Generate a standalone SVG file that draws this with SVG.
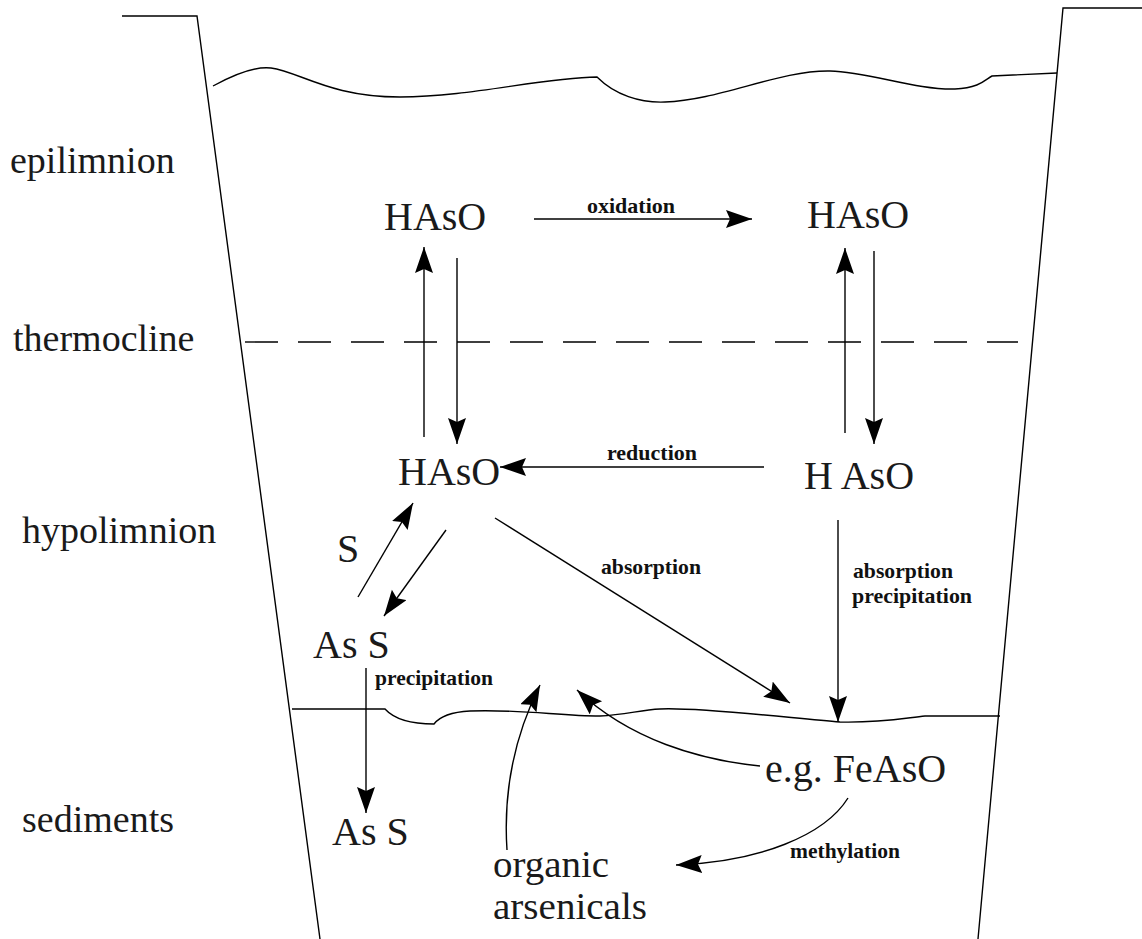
<svg xmlns="http://www.w3.org/2000/svg" width="1142" height="939" viewBox="0 0 1142 939">
<defs>
<marker id="ah" markerUnits="userSpaceOnUse" markerWidth="28" markerHeight="20" refX="26" refY="9" orient="auto">
<path d="M0,0 L26,9 L0,18 L4,9 z" fill="#000"/>
</marker>
<style>
.ln{fill:none;stroke:#000;stroke-width:1.4}
.ar{fill:none;stroke:#000;stroke-width:1.4;marker-end:url(#ah)}
.big{font-family:"Liberation Serif","Times New Roman",serif;font-size:40px;fill:#1a1a1a}
.org{font-family:"Liberation Serif","Times New Roman",serif;font-size:37px;fill:#1a1a1a}
.zone{font-family:"Liberation Serif","Times New Roman",serif;font-size:38px;fill:#1a1a1a}
.sm{font-family:"Liberation Serif","Times New Roman",serif;font-size:22px;font-weight:bold;fill:#111}
</style>
</defs>
<rect width="1142" height="939" fill="#fff"/>
<g id="lake">
<path class="ln" d="M122,16 L197,16 L320,939"/>
<path class="ln" d="M1142,8 L1063,8 L978,939"/>
<path class="ln" d="M213,86 C235,74 255,66 271,68 C300,72 330,97 400,97 C470,97 540,78 597,77 C615,95 640,103 665,102 C720,100 780,70 830,71 C870,72 915,90 955,89 C980,88 986,79 992,76 L1057,73"/>
<path class="ln" d="M245,342 L1018,342" stroke-dasharray="33,20"/>
<path class="ln" d="M292,709 L385,709 C395,720 415,724 434,724 C440,716 452,712 470,711 C520,709 560,716 600,716 C625,715 640,710 660,709 C700,707 790,718 840,722 C880,723 905,718 925,716 L1000,716"/>
</g>
<g id="zones">
<text class="zone" x="10" y="173">epilimnion</text>
<text class="zone" x="13" y="351">thermocline</text>
<text class="zone" x="22" y="543">hypolimnion</text>
<text class="zone" x="22" y="832">sediments</text>
</g>
<g id="n-hasO-epi-left"><text class="big" x="384" y="230">HAsO</text></g>
<g id="n-hasO-epi-right"><text class="big" x="807" y="228">HAsO</text></g>
<g id="n-hasO-hypo"><text class="big" x="398" y="485">HAsO</text></g>
<g id="n-h-asO-hypo"><text class="big" x="804" y="489">H AsO</text></g>
<g id="n-s"><text class="big" x="337" y="562">S</text></g>
<g id="n-as-s"><text class="big" x="313" y="658">As S</text></g>
<g id="n-as-s-sed"><text class="big" x="332" y="845">As S</text></g>
<g id="n-feaso"><text class="big" x="765" y="782">e.g. FeAsO</text></g>
<g id="n-organic"><text class="org" x="493" y="877" textLength="116" lengthAdjust="spacingAndGlyphs">organic</text><text class="org" x="493" y="919" textLength="154" lengthAdjust="spacingAndGlyphs">arsenicals</text></g>
<g id="connectors">
<path class="ar" d="M534,219 L752,219"/>
<path class="ar" d="M424,437 L424,247"/>
<path class="ar" d="M457,258 L457,444"/>
<path class="ar" d="M845,433 L845,248"/>
<path class="ar" d="M874,251 L874,444"/>
<path class="ar" d="M764,467 L500,467"/>
<path class="ar" d="M358,597 L413,503"/>
<path class="ar" d="M446,530 L384,616"/>
<path class="ar" d="M495,518 L790,703"/>
<path class="ar" d="M838,520 L838,722"/>
<path class="ar" d="M366,668 L366,813"/>
<path class="ar" d="M507,850 C503,790 515,735 540,685"/>
<path class="ar" d="M760,766 C700,760 630,740 577,690"/>
<path class="ar" d="M848,798 C825,835 760,862 676,865"/>
<text class="sm" x="587" y="213" textLength="88" lengthAdjust="spacingAndGlyphs">oxidation</text>
<text class="sm" x="607" y="460" textLength="90" lengthAdjust="spacingAndGlyphs">reduction</text>
<text class="sm" x="601" y="574" textLength="100" lengthAdjust="spacingAndGlyphs">absorption</text>
<text class="sm" x="853" y="578" textLength="100" lengthAdjust="spacingAndGlyphs">absorption</text>
<text class="sm" x="852" y="603" textLength="120" lengthAdjust="spacingAndGlyphs">precipitation</text>
<text class="sm" x="375" y="685" textLength="118" lengthAdjust="spacingAndGlyphs">precipitation</text>
<text class="sm" x="790" y="858" textLength="110" lengthAdjust="spacingAndGlyphs">methylation</text>
</g>
</svg>
